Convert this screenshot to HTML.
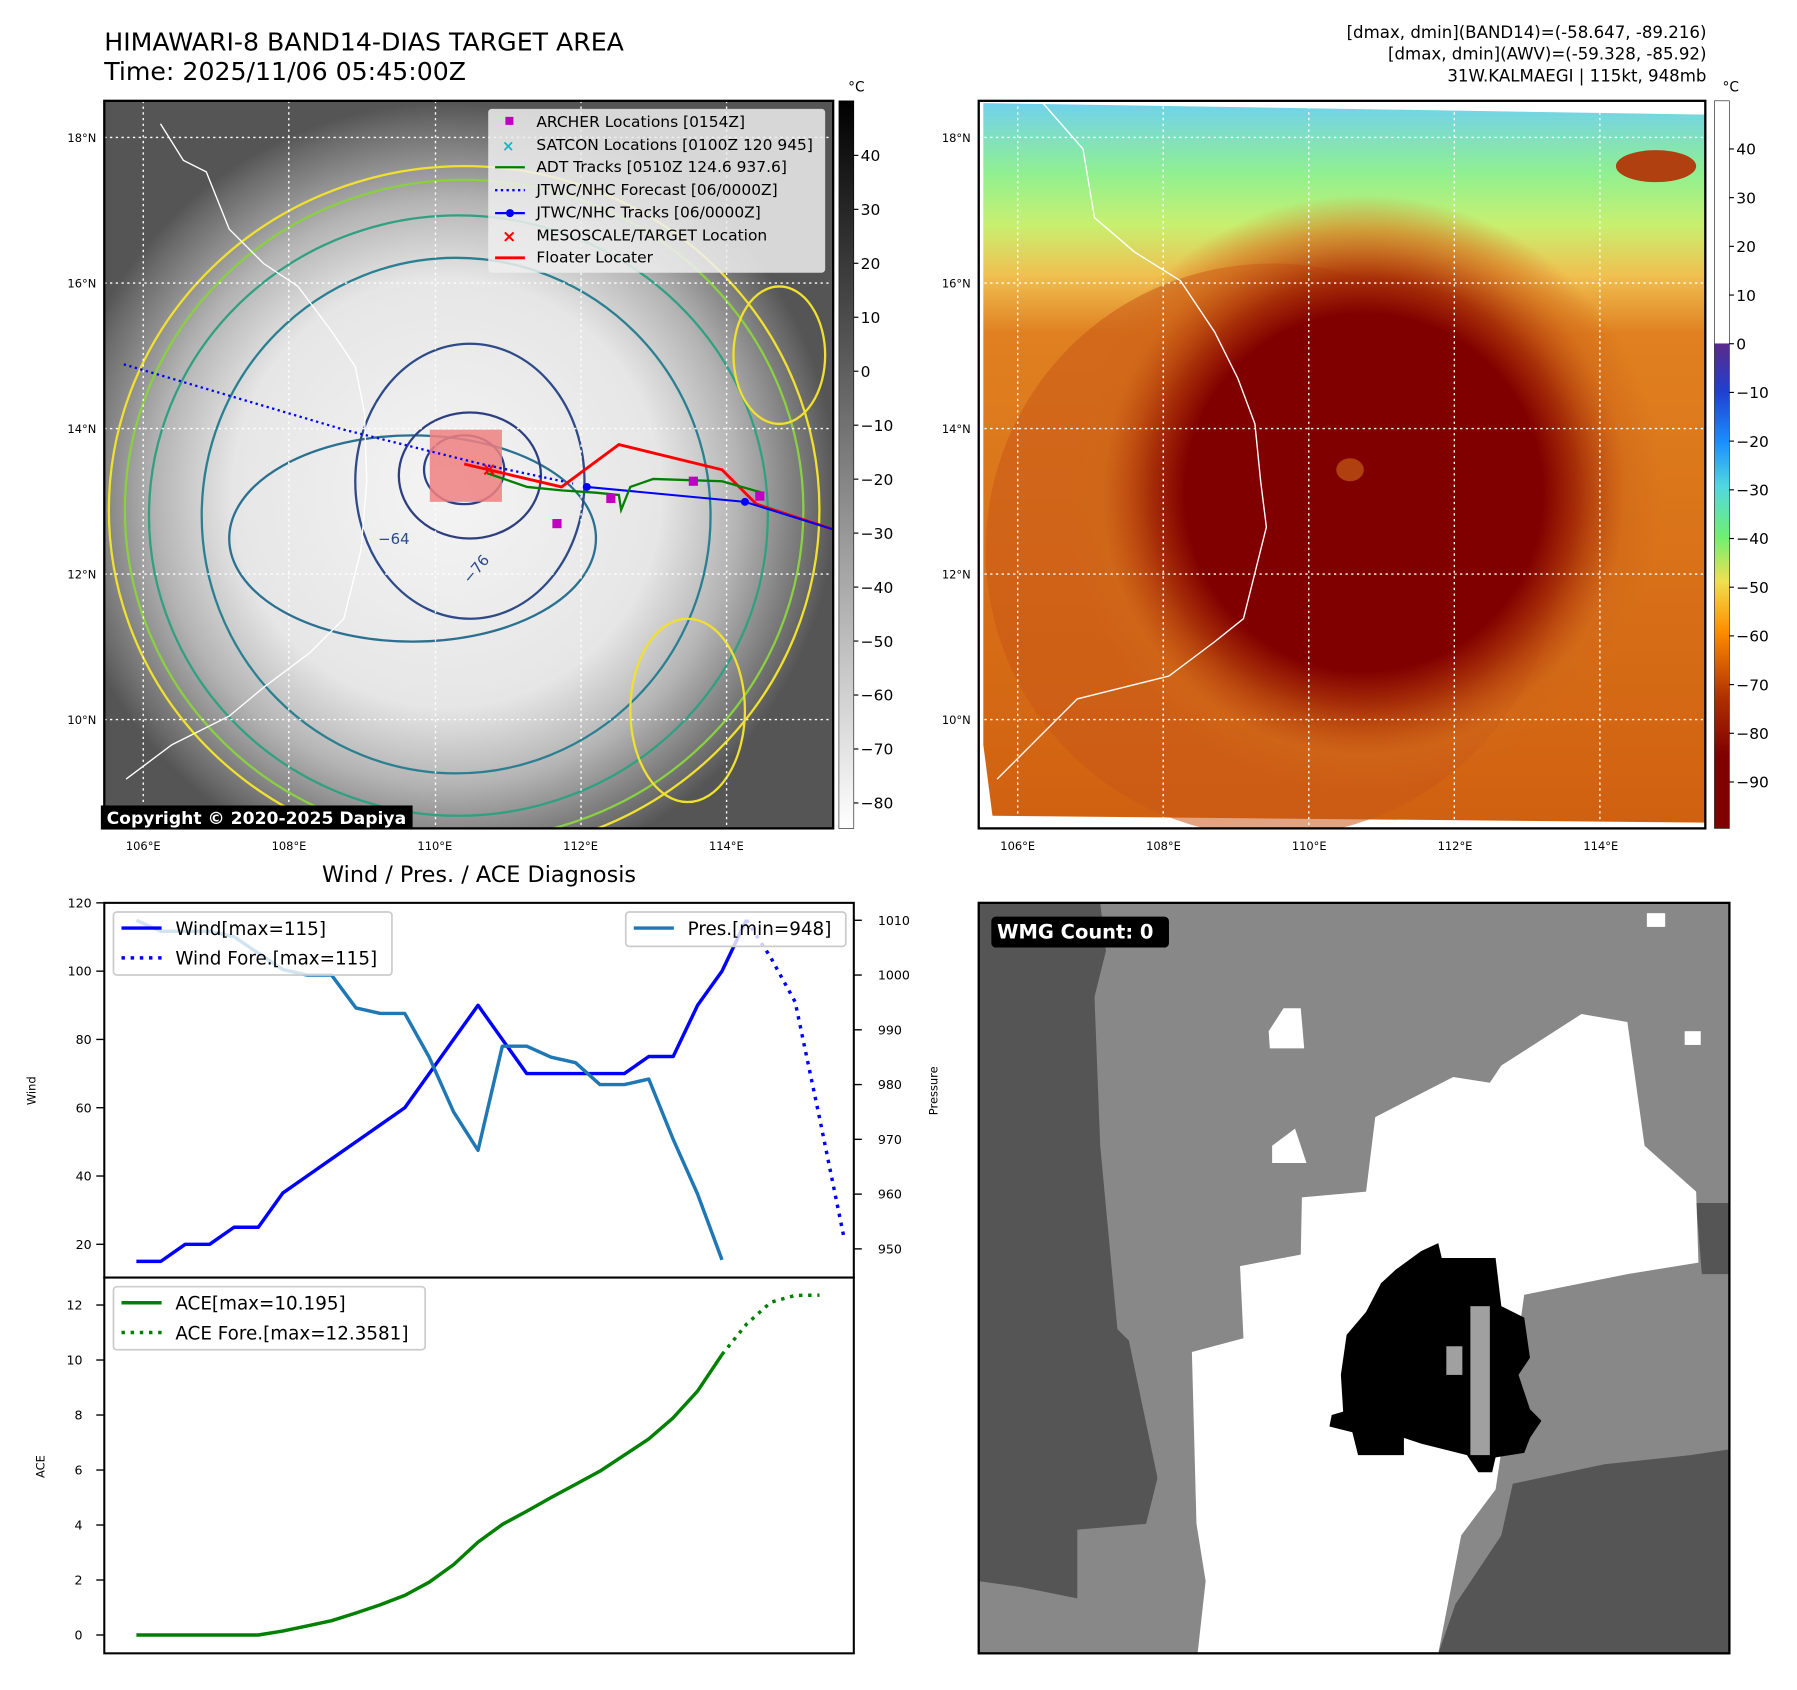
<!DOCTYPE html>
<html><head><meta charset="utf-8"><style>
html,body{margin:0;padding:0;background:#fff;}
svg{display:block;font-family:"DejaVu Sans","Liberation Sans",sans-serif;}
</style></head><body>
<svg id="root" width="1797" height="1690" viewBox="0 0 1568 1475" preserveAspectRatio="none">
<defs>
  <clipPath id="clipL"><rect x="91" y="88" width="636" height="635"/></clipPath>
  <clipPath id="clipR"><rect x="854" y="88" width="634" height="635"/></clipPath>
  <clipPath id="clipB"><rect x="854" y="788" width="655" height="655"/></clipPath>
  <radialGradient id="irL" cx="390" cy="430" r="340" gradientUnits="userSpaceOnUse">
    <stop offset="0" stop-color="#f4f4f4"/><stop offset="0.55" stop-color="#e6e6e6"/>
    <stop offset="0.75" stop-color="#b4b4b4"/><stop offset="0.95" stop-color="#6a6a6a"/><stop offset="1" stop-color="#555"/>
  </radialGradient>
  <linearGradient id="cbL" x1="0" y1="0" x2="0" y2="1">
    <stop offset="0" stop-color="#000"/><stop offset="1" stop-color="#fff"/>
  </linearGradient>
  <linearGradient id="cbR" x1="0" y1="0" x2="0" y2="1">
    <stop offset="0" stop-color="#fff"/><stop offset="0.333" stop-color="#fff"/>
    <stop offset="0.334" stop-color="#5a2a8a"/><stop offset="0.4" stop-color="#2040d0"/>
    <stop offset="0.47" stop-color="#1a90ff"/><stop offset="0.53" stop-color="#50d8e0"/>
    <stop offset="0.6" stop-color="#70f070"/><stop offset="0.66" stop-color="#f0e050"/>
    <stop offset="0.73" stop-color="#ff8c00"/><stop offset="0.82" stop-color="#b03000"/>
    <stop offset="0.9" stop-color="#800000"/><stop offset="1" stop-color="#800000"/>
  </linearGradient>
  <linearGradient id="skyR" x1="0" y1="88" x2="0" y2="723" gradientUnits="userSpaceOnUse">
    <stop offset="0" stop-color="#70d0f0"/><stop offset="0.1" stop-color="#90f090"/>
    <stop offset="0.17" stop-color="#c8f070"/><stop offset="0.24" stop-color="#f0c050"/>
    <stop offset="0.32" stop-color="#e08020"/><stop offset="1" stop-color="#d06010"/>
  </linearGradient>
  <radialGradient id="eyeR" cx="1190" cy="430" r="260" gradientUnits="userSpaceOnUse">
    <stop offset="0" stop-color="#800000"/><stop offset="0.6" stop-color="#800000"/>
    <stop offset="0.72" stop-color="#a83008"/><stop offset="0.88" stop-color="#d06818" stop-opacity="0.6"/><stop offset="1" stop-color="#d06818" stop-opacity="0"/>
  </radialGradient>
</defs>

<text x="91" y="44" font-size="22">HIMAWARI-8 BAND14-DIAS TARGET AREA</text>
<text x="91" y="70" font-size="22">Time: 2025/11/06 05:45:00Z</text>
<g font-size="14.5" text-anchor="end">
  <text x="1489" y="33">[dmax, dmin](BAND14)=(-58.647, -89.216)</text>
  <text x="1489" y="52">[dmax, dmin](AWV)=(-59.328, -85.92)</text>
  <text x="1489" y="71">31W.KALMAEGI | 115kt, 948mb</text>
</g>

<g>
  <g clip-path="url(#clipL)">
    <rect x="91" y="88" width="636" height="635" fill="url(#irL)"/>
    <g fill="none" stroke-width="2">
      <ellipse cx="405" cy="445" rx="310" ry="300" stroke="#f0e030"/>
      <ellipse cx="405" cy="445" rx="296" ry="288" stroke="#8ad040"/>
      <ellipse cx="400" cy="450" rx="270" ry="262" stroke="#30a080"/>
      <ellipse cx="398" cy="450" rx="222" ry="225" stroke="#2a8090"/>
      <ellipse cx="360" cy="470" rx="160" ry="90" stroke="#2a7090"/>
      <ellipse cx="410" cy="420" rx="100" ry="120" stroke="#2e4a88"/>
      <ellipse cx="410" cy="415" rx="62" ry="55" stroke="#2e3f80"/>
      <ellipse cx="405" cy="410" rx="35" ry="30" stroke="#2e3f80"/>
      <ellipse cx="680" cy="310" rx="40" ry="60" stroke="#f0e030"/>
      <ellipse cx="600" cy="620" rx="50" ry="80" stroke="#f0e030"/>
    </g>
    <g stroke="#fff" stroke-width="1.2" stroke-dasharray="2,3">
      <line x1="125" y1="88" x2="125" y2="723"/><line x1="252" y1="88" x2="252" y2="723"/>
      <line x1="380" y1="88" x2="380" y2="723"/><line x1="507" y1="88" x2="507" y2="723"/>
      <line x1="634" y1="88" x2="634" y2="723"/>
      <line x1="91" y1="120" x2="727" y2="120"/><line x1="91" y1="247" x2="727" y2="247"/>
      <line x1="91" y1="374" x2="727" y2="374"/><line x1="91" y1="501" x2="727" y2="501"/>
      <line x1="91" y1="628" x2="727" y2="628"/>
    </g>
    <polyline fill="none" stroke="#fff" stroke-width="1.2" points="140,108 160,140 180,150 200,200 230,230 260,250 290,290 310,320 318,360 320,420 315,480 300,540 270,570 230,600 200,625 150,650 110,680"/>
    <rect x="375" y="375" width="63" height="63" fill="#f08080" opacity="0.85"/>
    <polyline fill="none" stroke="#0000ff" stroke-width="2" stroke-dasharray="2,3" points="108,318 300,375 420,405 500,422"/>
    <polyline fill="none" stroke="#ff0000" stroke-width="2.5" points="405,405 490,425 540,388 630,410 660,440 727,462"/>
    <polyline fill="none" stroke="#0000ff" stroke-width="1.8" points="512,425 650,438 727,462"/>
    <circle cx="512" cy="425" r="3.5" fill="#0000ff"/><circle cx="650" cy="438" r="3.5" fill="#0000ff"/>
    <polyline fill="none" stroke="#007f00" stroke-width="2" points="425,413 460,425 490,428 520,430 540,432 542,445 550,425 570,418 630,420 665,430"/>
    <g fill="#c000c0">
      <rect x="482" y="453" width="8" height="8"/><rect x="529" y="431" width="8" height="8"/>
      <rect x="601" y="416" width="8" height="8"/><rect x="659" y="429" width="8" height="8"/>
    </g>
    <text x="420" y="415" fill="#f00" font-size="16" font-weight="bold">×</text>
    <g font-size="13" fill="#2a4a88"><text x="330" y="475">−64</text><text x="410" y="510" transform="rotate(-50 410 510)">−76</text></g>
  </g>
  <rect x="91" y="88" width="636" height="635" fill="none" stroke="#000" stroke-width="2"/>
</g>
<g>
  <rect x="426" y="95" width="294" height="143" rx="3" fill="#eee" opacity="0.85"/>
  <g font-size="13.5">
    <rect x="441" y="102" width="7" height="7" fill="#c000c0"/><text x="468" y="111">ARCHER Locations [0154Z]</text>
    <text x="438" y="132" fill="#00c0c0" font-size="13" font-weight="bold">×</text><text x="468" y="131">SATCON Locations [0100Z 120 945]</text>
    <line x1="432" y1="146" x2="458" y2="146" stroke="#007f00" stroke-width="2"/><text x="468" y="150">ADT Tracks [0510Z 124.6 937.6]</text>
    <line x1="432" y1="166" x2="458" y2="166" stroke="#0000ff" stroke-width="2" stroke-dasharray="2,3"/><text x="468" y="170">JTWC/NHC Forecast [06/0000Z]</text>
    <line x1="432" y1="186" x2="458" y2="186" stroke="#0000ff" stroke-width="2"/><circle cx="445" cy="186" r="3.5" fill="#0000ff"/><text x="468" y="190">JTWC/NHC Tracks [06/0000Z]</text>
    <text x="438" y="211" fill="#f00" font-size="15" font-weight="bold">×</text><text x="468" y="210">MESOSCALE/TARGET Location</text>
    <line x1="432" y1="225" x2="458" y2="225" stroke="#f00" stroke-width="2.5"/><text x="468" y="229">Floater Locater</text>
  </g>
</g>
<rect x="88" y="703" width="272" height="21" fill="#000"/>
<text x="93" y="719" fill="#fff" font-size="15" font-weight="bold">Copyright © 2020-2025 Dapiya</text>

<g>
  <rect x="732" y="88" width="13" height="635" fill="url(#cbL)" stroke="#000" stroke-width="0.5"/>
  <text x="740" y="80" font-size="12">°C</text>
  <g font-size="13.5" id="cbLticks"></g>
</g>
<g font-size="10" id="llL"></g>
<g font-size="10" id="llR"></g>

<g>
  <g clip-path="url(#clipR)">
    <rect x="854" y="88" width="634" height="635" fill="#fff"/>
    <polygon points="858,90 1488,100 1488,718 866,712 858,650" fill="url(#skyR)"/>
    <ellipse cx="1110" cy="480" rx="250" ry="250" fill="#c85818" opacity="0.55"/>
    <ellipse cx="1190" cy="430" rx="285" ry="295" fill="url(#eyeR)"/>
    <ellipse cx="1178" cy="410" rx="12" ry="10" fill="#b04010"/>
    <ellipse cx="1445" cy="145" rx="35" ry="14" fill="#b04010"/>
    <g stroke="#fff" stroke-width="1.2" stroke-dasharray="2,3">
      <line x1="888" y1="88" x2="888" y2="723"/><line x1="1015" y1="88" x2="1015" y2="723"/>
      <line x1="1142" y1="88" x2="1142" y2="723"/><line x1="1269" y1="88" x2="1269" y2="723"/>
      <line x1="1396" y1="88" x2="1396" y2="723"/>
      <line x1="854" y1="120" x2="1488" y2="120"/><line x1="854" y1="247" x2="1488" y2="247"/>
      <line x1="854" y1="374" x2="1488" y2="374"/><line x1="854" y1="501" x2="1488" y2="501"/>
      <line x1="854" y1="628" x2="1488" y2="628"/>
    </g>
    <polyline fill="none" stroke="#fff" stroke-width="1.2" points="910,90 945,130 955,190 990,220 1030,245 1060,290 1080,330 1095,370 1100,420 1105,460 1095,500 1085,540 1060,560 1020,590 980,600 940,610 910,640 870,680"/>
  </g>
  <rect x="854" y="88" width="634" height="635" fill="none" stroke="#000" stroke-width="2"/>
</g>
<g>
  <rect x="1496" y="88" width="13" height="635" fill="url(#cbR)" stroke="#000" stroke-width="0.5"/>
  <text x="1503" y="80" font-size="12">°C</text>
  <g font-size="13.5" id="cbRticks"></g>
</g>

<g>
  <g clip-path="url(#clipB)">
    <rect x="854" y="788" width="655" height="655" fill="#888"/>
    <polygon fill="#555" points="854,788 960,788 965,830 955,870 960,1000 975,1160 985,1170 1010,1290 1000,1330 940,1335 940,1395 890,1385 854,1380"/>
    <polygon fill="#555" points="1480,1050 1509,1050 1509,1112 1485,1112"/>
    <polygon fill="#555" points="1509,1265 1475,1270 1400,1278 1320,1295 1310,1340 1290,1370 1270,1400 1255,1443 1509,1443"/>
    <polygon fill="#fff" points="1045,1443 1052,1380 1044,1330 1040,1180 1085,1168 1082,1105 1135,1095 1136,1045 1192,1040 1200,975 1268,940 1300,945 1310,930 1380,885 1420,892 1435,1000 1480,1040 1482,1102 1420,1112 1330,1130 1320,1200 1305,1300 1275,1340 1255,1443"/>
    <polygon fill="#fff" points="1107,900 1120,880 1135,880 1138,915 1108,915"/>
    <polygon fill="#fff" points="1110,1000 1130,985 1140,1015 1110,1015"/>
    <rect x="1437" y="797" width="16" height="12" fill="#fff"/>
    <rect x="1470" y="900" width="14" height="12" fill="#fff"/>
    <polygon fill="#000" points="1175,1165 1192,1145 1205,1120 1218,1108 1240,1092 1255,1085 1258,1098 1305,1098 1310,1140 1330,1150 1335,1185 1325,1200 1335,1230 1345,1240 1335,1255 1330,1268 1305,1272 1302,1285 1290,1285 1280,1270 1240,1260 1225,1255 1225,1270 1185,1270 1180,1250 1160,1245 1162,1235 1172,1232 1170,1200"/>
    <rect x="1283" y="1140" width="17" height="130" fill="#a0a0a0"/>
    <rect x="1262" y="1175" width="14" height="25" fill="#a0a0a0"/>
  </g>
  <rect x="854" y="788" width="655" height="655" fill="none" stroke="#000" stroke-width="2"/>
  <rect x="865" y="800" width="155" height="27" rx="4" fill="#000"/>
  <text x="870" y="819" fill="#fff" font-size="17" font-weight="bold">WMG Count: 0</text>
</g>

<text x="418" y="770" font-size="19.5" text-anchor="middle">Wind / Pres. / ACE Diagnosis</text>
<g id="chart"></g>
</svg>

<script>
const windValues = [15,15,20,20,25,25,35,40,45,50,55,60,70,80,90,80,70,70,70,70,70,75,75,90,100,115];
const windForecast = [115,104,91,57,22];
const presValues = [1010,1008,1008,1008,1007,1004,1001,1000,1000,994,993,993,985,975,968,987,987,985,984,980,980,981,970,960,948];
const aceValues = [0,0,0,0,0,0,0.14,0.33,0.52,0.8,1.1,1.44,1.92,2.56,3.38,4.02,4.5,5.0,5.48,5.96,6.54,7.13,7.9,8.87,10.2];
const aceForecast = [10.2,11.3,12.1,12.35,12.36];
const windTicks = [20,40,60,80,100,120];
const presTicks = [950,960,970,980,990,1000,1010];
const aceTicks = [0,2,4,6,8,10,12];
const cbLTicks = [40,30,20,10,0,-10,-20,-30,-40,-50,-60,-70,-80];
const cbRTicks = [40,30,20,10,0,-10,-20,-30,-40,-50,-60,-70,-80,-90];
const lonTicks = ["106°E","108°E","110°E","112°E","114°E"];
const latTicks = ["18°N","16°N","14°N","12°N","10°N"];

const NS = "http://www.w3.org/2000/svg";
function mk(tag, attrs, parent){const e=document.createElementNS(NS,tag);for(const k in attrs)e.setAttribute(k,attrs[k]);parent.appendChild(e);return e;}

const xS = i => 119 + i*21.29;
const yWind = v => 1086 - (v-20)*2.98;
const yPres = v => 1090 - (v-950)*4.78;
const yAce = v => 1427 - v*24.0;

const chart = document.getElementById('chart');
let f1 = mk('rect',{x:91,y:788,width:654,height:327,fill:'none',stroke:'#000','stroke-width':1.8},chart);


let f2 = mk('rect',{x:91,y:1115,width:654,height:328,fill:'none',stroke:'#000','stroke-width':1.8},chart);



function tick(x1,y,x2,label,lx,anchor,name){
  mk('line',{x1:x1,y1:y,x2:x2,y2:y,stroke:'#000','stroke-width':1.2},chart);
  const t=mk('text',{x:lx,y:y+4,'font-size':11,'text-anchor':anchor},chart);
  t.textContent=label;
  
  
}
windTicks.forEach(v=>tick(84,yWind(v),91,v,80,'end','wind-tick-label'));
presTicks.forEach(v=>tick(745,yPres(v),752,v,766,'start','pressure-tick-label'));
aceTicks.forEach(v=>tick(84,yAce(v),91,v,72,'end','ace-tick-label'));

function axisTitle(txt,x,y,name){
  const t=mk('text',{x:x,y:y,'font-size':10,'text-anchor':'middle',transform:`rotate(-90 ${x} ${y})`},chart);
  t.textContent=txt;
  
  
}
axisTitle('Wind',31,952,'wind-axis-title');
axisTitle('Pressure',818,952,'pressure-axis-title');
axisTitle('ACE',39,1280,'ace-axis-title');

function line(vals,offset,yf,color,w,dash,name){
  const pts=vals.map((v,i)=>xS(i+offset).toFixed(1)+','+yf(v).toFixed(1)).join(' ');
  const p=mk('polyline',{points:pts,fill:'none',stroke:color,'stroke-width':w,'stroke-linejoin':'round'},chart);
  if(dash)p.setAttribute('stroke-dasharray',dash);
  
  
}
line(windValues,0,yWind,'#0000ff',3,null,'wind-line');
line(windForecast,windValues.length-1,yWind,'#0000ff',3,'3,5','wind-forecast-line');
line(presValues,0,yPres,'#1f77b4',3,null,'pressure-line');
line(aceValues,0,yAce,'#008000',3,null,'ace-line');
line(aceForecast,aceValues.length-1,yAce,'#008000',3,'3,5','ace-forecast-line');

function legend(x,y,w,h,items,name){
  const g=mk('g',{},chart);
  
  
  mk('rect',{x:x,y:y,width:w,height:h,rx:3,fill:'#fff','fill-opacity':0.8,stroke:'#ccc','stroke-width':1.5},g);
  items.forEach((it,k)=>{
    const yy=y+14+k*26;
    const l=mk('line',{x1:x+7,y1:yy,x2:x+42,y2:yy,stroke:it[1],'stroke-width':3},g);
    if(it[2])l.setAttribute('stroke-dasharray','3,5');
    const t=mk('text',{x:x+54,y:yy+6,'font-size':16},g);
    t.textContent=it[0];
  });
}
legend(99,796,243,55,[['Wind[max=115]','#0000ff',0],['Wind Fore.[max=115]','#0000ff',1]],'wind-legend');
legend(546,796,192,30,[['Pres.[min=948]','#1f77b4',0]],'pressure-legend');
legend(99,1123,272,55,[['ACE[max=10.195]','#008000',0],['ACE Fore.[max=12.3581]','#008000',1]],'ace-legend');

const cbL=document.getElementById('cbLticks');
cbLTicks.forEach(v=>{const y=324-v*4.71;mk('line',{x1:745,y1:y,x2:749,y2:y,stroke:'#000'},cbL);const t=mk('text',{x:751,y:y+5},cbL);t.textContent=v<0?'\u2212'+(-v):v;});
const cbR=document.getElementById('cbRticks');
cbRTicks.forEach(v=>{const y=300-v*4.25;mk('line',{x1:1509,y1:y,x2:1513,y2:y,stroke:'#000'},cbR);const t=mk('text',{x:1515,y:y+5},cbR);t.textContent=v<0?'\u2212'+(-v):v;});

function ll(id,x0){
  const g=document.getElementById(id);
  lonTicks.forEach((s,i)=>{const t=mk('text',{x:x0+34+i*127.2,y:742,'text-anchor':'middle'},g);t.textContent=s;});
  latTicks.forEach((s,i)=>{const t=mk('text',{x:x0-7,y:124+i*127,'text-anchor':'end'},g);t.textContent=s;});
}
ll('llL',91); ll('llR',854);
</script>
</body></html>
